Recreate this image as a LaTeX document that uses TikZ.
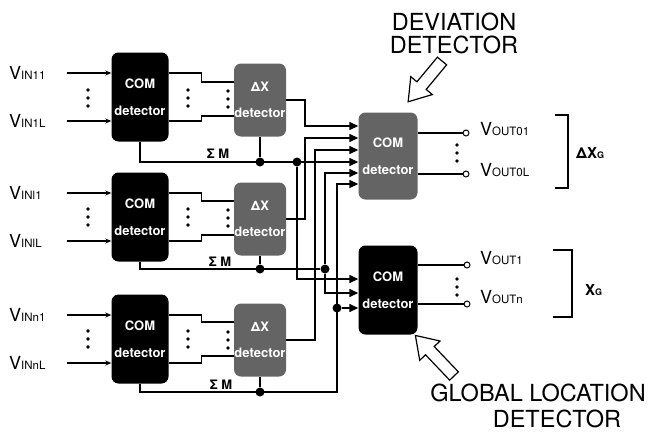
\documentclass[tikz,border=0pt]{standalone}
\usepackage{fontspec}
\setmainfont{TeX Gyre Heros}
\usetikzlibrary{arrows, arrows.meta, positioning, calc}
\definecolor{grisito}{RGB}{100,100,100}
\newcommand{\vsig}[1]{{\fontsize{18}{18}\selectfont V}{\fontsize{11.5}{12}\selectfont #1}}
\newcommand{\tresdots}[2]{\foreach \k in {-8,0,8} \fill (#1,#2+\k) circle (1.8pt);}
\tikzset{>=stealth}
\tikzset{
  comblk/.style={fill=black, rounded corners=7pt, minimum width=57pt, minimum height=89pt,
    inner sep=0pt, text=white, align=center, font=\fontsize{13}{15}\selectfont\bfseries},
  dxblk/.style={comblk, fill=grisito, minimum width=52pt, minimum height=73pt},
  wire/.style={line width=1.4pt},
  inw/.style={line width=1.1pt, {Stealth[length=6pt,width=5pt]}-},
  bigin/.style={wire, -{Triangle[length=9pt,width=8pt]}},
  jdot/.style={circle, fill=black, inner sep=0pt, minimum size=9pt},
  term/.style={circle, draw, fill=white, inner sep=0pt, minimum size=6pt, line width=1pt},
  vlab/.style={anchor=west, inner sep=0pt},
  smlab/.style={font=\fontsize{13}{15}\selectfont\bfseries, inner sep=0pt},
  bigtxt/.style={font=\fontsize{23.5}{23}\selectfont, align=center, inner sep=0pt},
  hollow/.style={draw, fill=white, line width=1.2pt, line join=miter}
}

\begin{document}
\begin{tikzpicture}[x=1pt, y=-1pt]
  \useasboundingbox (0,0) rectangle (652,431);
  % COM detectors
  \node[comblk] (com1) at (140,97) {COM\\[12pt]detector};
  \node[comblk] (com2) at (140,217) {COM\\[12pt]detector};
  \node[comblk] (com3) at (140,339) {COM\\[12pt]detector};
  % delta X detectors
  \node[dxblk] (dx1) at (260,100) {ΔX\\[11pt]detector};
  \node[dxblk] (dx2) at (260,219) {ΔX\\[11pt]detector};
  \node[dxblk] (dx3) at (260,340) {ΔX\\[11pt]detector};
  % deviation and global location COM detectors
  \node[comblk, fill=grisito, minimum width=59pt, minimum height=87pt] (dev) at (388,156) {COM\\[12pt]detector};
  \node[comblk, minimum width=59pt] (glb) at (388,290) {COM\\[12pt]detector};

  % input labels
  \node[vlab] (v11) at (9,73) {\vsig{IN11}};
  \node[vlab] (v1L) at (9,121) {\vsig{IN1L}};
  \node[vlab] (vl1) at (9,193) {\vsig{INl1}};
  \node[vlab] (vlL) at (9,241) {\vsig{INlL}};
  \node[vlab] (vn1) at (9,315) {\vsig{INn1}};
  \node[vlab] (vnL) at (9,363) {\vsig{INnL}};
  % input arrows
  \draw[inw] (com1.west |- v11) -- ++(-44,0);
  \draw[inw] (com1.west |- v1L) -- ++(-44,0);
  \draw[inw] (com2.west |- vl1) -- ++(-44,0);
  \draw[inw] (com2.west |- vlL) -- ++(-44,0);
  \draw[inw] (com3.west |- vn1) -- ++(-44,0);
  \draw[inw] (com3.west |- vnL) -- ++(-44,0);

  % COM -> delta X
  \draw[wire] ([yshift=24pt]com1.east) -- ++(33,0) |- ([yshift=18pt]dx1.west);
  \draw[wire] ([yshift=-24pt]com1.east) -- ++(33,0) |- ([yshift=-16pt]dx1.west);
  \draw[wire] ([yshift=24pt]com2.east) -- ++(33,0) |- ([yshift=18pt]dx2.west);
  \draw[wire] ([yshift=-24pt]com2.east) -- ++(33,0) |- ([yshift=-16pt]dx2.west);
  \draw[wire] ([yshift=24pt]com3.east) -- ++(33,0) |- ([yshift=18pt]dx3.west);
  \draw[wire] ([yshift=-24pt]com3.east) -- ++(33,0) |- ([yshift=-16pt]dx3.west);

  % dots
  \tresdots{88}{98}  \tresdots{188}{98}  \tresdots{228}{99}
  \tresdots{88}{217} \tresdots{188}{217} \tresdots{228}{218}
  \tresdots{88}{339} \tresdots{188}{339} \tresdots{228}{340}
  \tresdots{457}{153} \tresdots{457}{287}

  % delta X outputs to deviation detector
  \draw[bigin] (dx1.east) -| (305,126) -- (dev.west |- 0,126);
  \draw[bigin] (dx2.east) -| (305,138) -- (dev.west |- 0,138);
  \draw[bigin] (dx3.east) -| (315,150) -- (dev.west |- 0,150);

  % sum lines
  \draw[bigin] (com1.south) |- (dev.west |- 0,162);
  \node[jdot] (j11) at (dx1.south |- 0,162) {};
  \node[jdot] (j12) at (297,162) {};
  \draw[wire] (dx1.south) -- (j11);
  \draw[bigin] (j12) |- (glb.west |- 0,279);
  \node[smlab] (sm1) at (218,154) {Σ M};

  \node[jdot] (j21) at (dx2.south |- 0,269) {};
  \node[jdot] (j22) at (325,269) {};
  \draw[wire] (com2.south) |- (j22);
  \draw[wire] (dx2.south) -- (j21);
  \draw[bigin] (j22) |- (dev.west |- 0,173);
  \draw[bigin] (j22) |- (glb.west |- 0,293);
  \node[smlab] (sm2) at (220,262) {Σ M};

  \node[jdot] (j31) at (dx3.south |- 0,392) {};
  \node[jdot] (j32) at (337,308) {};
  \draw[bigin] (com3.south) |- (337,392) |- (dev.west |- 0,184);
  \draw[wire] (dx3.south) -- (j31);
  \draw[bigin] (j32) -- (glb.west |- j32);
  \node[smlab] (sm3) at (221,385) {Σ M};

  % outputs
  \node[term] (t01) at (466,133) {};
  \node[term] (t0L) at (466,174) {};
  \node[term] (t1) at (467,265) {};
  \node[term] (tn) at (467,304) {};
  \draw[wire] (dev.east |- t01) -- (t01);
  \draw[wire] (dev.east |- t0L) -- (t0L);
  \draw[wire] (glb.east |- t1) -- (t1);
  \draw[wire] (glb.east |- tn) -- (tn);
  \node[vlab] (o01) at (480,129) {\vsig{OUT01}};
  \node[vlab] (o0L) at (480,170) {\vsig{OUT0L}};
  \node[vlab] (o1) at (480,258) {\vsig{OUT1}};
  \node[vlab] (on) at (480,297) {\vsig{OUTn}};

  % brackets
  \draw[line width=1.1pt] (555,115) -| (568,188) -- (555,188);
  \draw[line width=1.1pt] (553,250) -| (572,317) -- (553,317);
  \node[vlab] (dxg) at (576,153) {\fontsize{15}{15}\selectfont\bfseries ΔX{\fontsize{9}{9}\selectfont G}};
  \node[vlab] (xg) at (585,290) {\fontsize{15}{15}\selectfont\bfseries X{\fontsize{9}{9}\selectfont G}};

  % titles and pointers
  \node[bigtxt] (devtxt) at (454,33) {DEVIATION\\DETECTOR};
  \node[bigtxt, anchor=base] (glbtxt) at (538,401) {GLOBAL LOCATION};
  \node[bigtxt, anchor=base] (glbtxt2) at (557,427) {DETECTOR};
  \draw[hollow, shift={(442,61)}, rotate=-129.7] (0,-6) -- (32,-6) -- (32,-14) -- (53,0) -- (32,14) -- (32,6) -- (0,6) -- cycle;
  \draw[hollow, shift={(454,376)}, rotate=133.6] (0,-6) -- (35,-6) -- (35,-14) -- (56,0) -- (35,14) -- (35,6) -- (0,6) -- cycle;
\end{tikzpicture}
\end{document}
